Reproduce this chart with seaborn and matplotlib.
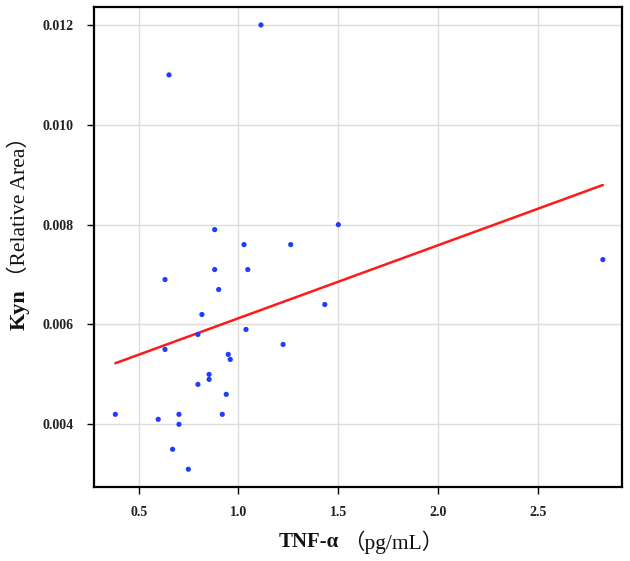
import numpy as np
import pandas as pd
import matplotlib
matplotlib.use("Agg")
import matplotlib.pyplot as plt
import seaborn as sns

# values
tnf = [0.383, 0.598, 0.632, 0.632, 0.652, 0.670, 0.702, 0.702, 0.749, 0.797,
       0.797, 0.817, 0.853, 0.853, 0.881, 0.881, 0.901, 0.919, 0.939, 0.949,
       0.959, 1.028, 1.038, 1.047, 1.113, 1.224, 1.262, 1.433, 1.501, 2.827]
kyn = [0.0042, 0.0041, 0.0069, 0.0055, 0.0110, 0.0035, 0.0042, 0.0040, 0.0031, 0.0058,
       0.0048, 0.0062, 0.0050, 0.0049, 0.0079, 0.0071, 0.0067, 0.0042, 0.0046, 0.0054,
       0.0053, 0.0076, 0.0059, 0.0071, 0.0120, 0.0056, 0.0076, 0.0064, 0.0080, 0.0073]

x_ticks = [0.5, 1.0, 1.5, 2.0, 2.5]
y_ticks = [0.004, 0.006, 0.008, 0.010, 0.012]

df = pd.DataFrame({"tnf": tnf, "kyn": kyn})

sns.set_style("whitegrid")
plt.rcParams["font.family"] = ["Liberation Serif", "Noto Sans CJK SC", "DejaVu Sans"]

fig = plt.figure(figsize=(6.3, 5.61), dpi=100)
ax = fig.add_axes([94 / 630, 1 - 487 / 561, (622 - 94) / 630, (487 - 7) / 561])

sns.regplot(data=df, x="tnf", y="kyn", scatter=False, ci=None, truncate=True,
            color="#ff1a1a", line_kws={"linewidth": 1.8}, ax=ax)
sns.scatterplot(data=df, x="tnf", y="kyn", color="#1f3dff", s=14,
                edgecolor="none", ax=ax, zorder=3)

ax.set_xlim(0.276, 2.923)
ax.set_ylim(0.002744, 0.01236)
ax.set_xticks(x_ticks)
ax.set_yticks(y_ticks)
ax.set_xticklabels([f"{v:.1f}" for v in x_ticks])
ax.set_yticklabels([f"{v:.3f}" for v in y_ticks])
for lab in ax.get_xticklabels() + ax.get_yticklabels():
    lab.set_fontweight("bold")
    lab.set_fontsize(10)
    lab.set_color("#222222")
ax.tick_params(axis="both", which="major", length=5, width=1, color="black",
               direction="out", bottom=True, left=True)
ax.tick_params(axis="x", pad=9)
ax.tick_params(axis="y", pad=10)
ax.grid(True, color="#dddddd", linewidth=1)
for sp in ax.spines.values():
    sp.set_color("black")
    sp.set_linewidth(1.6)
    sp.set_visible(True)
ax.set_xlabel("")
ax.set_ylabel("")

# axis titles: bold name + normal unit
fig.canvas.draw()
r = fig.canvas.get_renderer()
xb = fig.text(279 / 630, 1 - 542 / 561, "TNF-α", fontsize=15, fontweight="bold",
              va="center", color="#111111")
bb = xb.get_window_extent(r)
fig.text(bb.x1 / 630 + 4 / 630, 1 - 542 / 561, "（pg/mL）", fontsize=15.5,
         va="center", color="#111111")

yb = fig.text(20 / 630, 1 - 330 / 561, "Kyn", fontsize=16, fontweight="bold",
              rotation=90, ha="center", va="bottom", color="#111111")
bb = yb.get_window_extent(r)
fig.text(20 / 630, bb.y1 / 561 + 2 / 561, "（Relative Area）", fontsize=15.5,
         rotation=90, ha="center", va="bottom", color="#111111")

fig.savefig("out.png", dpi=100)
